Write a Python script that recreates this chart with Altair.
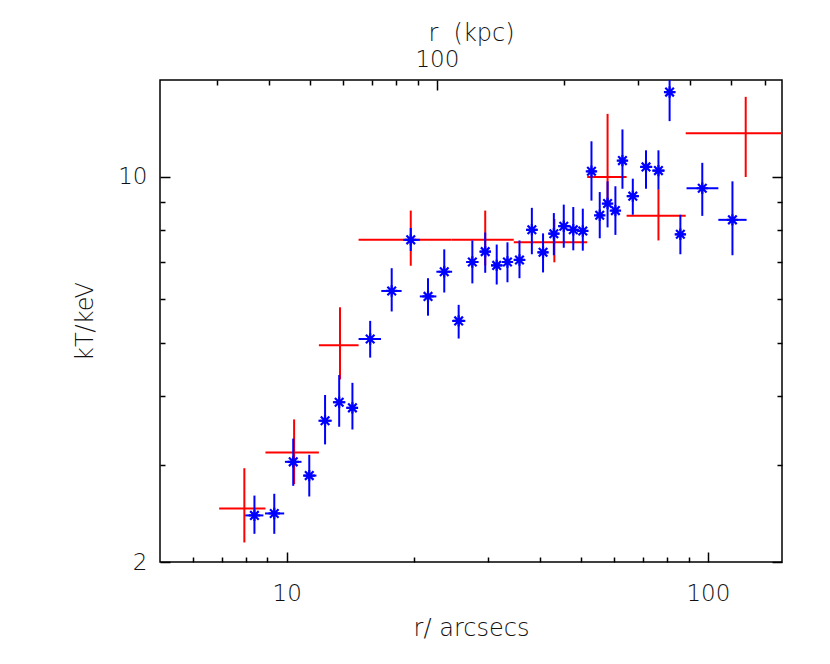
import altair as alt
import pandas as pd

# ---- blue points (r in arcsec, kT in keV) ----
bx = [8.38, 9.34, 10.36, 11.31, 12.33, 13.32, 14.32, 15.78, 17.75, 19.70, 21.65, 23.66,
      25.60, 27.59, 29.6, 31.52, 33.43, 35.70, 38.20, 40.61, 43.08, 45.48, 47.91, 50.47,
      52.92, 55.37, 57.79, 60.32, 62.69, 66.34, 71.31, 76.33, 81.13, 86.05, 97.0, 114.4]
bxlo = [7.97, 8.88, 9.90, 10.94, 11.89, 12.87, 13.84, 14.81, 16.77, 18.91, 20.70, 22.66,
        24.70, 26.67, 28.73, 30.61, 32.54, 34.6, 37.02, 39.44, 41.92, 44.36, 46.73, 49.12,
        51.7, 54.26, 56.62, 58.97, 61.43, 64.13, 69.1, 73.79, 78.96, 83.75, 89.0, 105.9]
bxhi = [8.80, 9.86, 10.84, 11.76, 12.79, 13.78, 14.74, 16.74, 18.74, 20.70, 22.66, 24.70,
        26.55, 28.54, 30.54, 32.54, 34.43, 36.85, 39.44, 41.73, 44.36, 46.73, 49.12, 51.7,
        54.26, 56.62, 58.97, 61.43, 64.13, 68.62, 73.79, 78.96, 83.75, 88.41, 105.9, 123.6]
by = [2.43, 2.45, 3.04, 2.87, 3.61, 3.90, 3.81, 5.08, 6.21, 7.69, 6.07, 6.73,
      5.48, 7.01, 7.32, 6.91, 7.01, 7.07, 8.02, 7.30, 7.89, 8.14, 8.02, 7.98,
      10.24, 8.52, 8.95, 8.69, 10.71, 9.23, 10.43, 10.27, 14.26, 7.87, 9.54, 8.36]
bylo = [2.25, 2.25, 2.75, 2.63, 3.27, 3.52, 3.48, 4.70, 5.70, 7.34, 5.60, 6.17,
        5.09, 6.41, 6.70, 6.38, 6.44, 6.55, 7.24, 6.71, 7.21, 7.44, 7.36, 7.35,
        9.06, 7.74, 8.10, 7.85, 9.52, 8.54, 9.52, 9.49, 12.63, 7.24, 8.50, 7.21]
byhi = [2.64, 2.66, 3.35, 3.13, 4.02, 4.37, 4.23, 5.48, 6.83, 8.08, 6.55, 7.39,
        5.86, 7.67, 7.93, 7.54, 7.61, 7.67, 8.79, 7.90, 8.60, 8.91, 8.82, 8.76,
        11.61, 9.39, 9.82, 9.62, 12.20, 9.93, 11.18, 11.18, 15.5, 8.54, 10.61, 9.82]

# ---- red crosses ----
rx = [7.93, 10.41, 13.38, 19.70, 29.6, 43.2, 57.79, 76.33, 123.0]
rxlo = [6.91, 8.90, 11.92, 14.81, 24.6, 34.6, 51.7, 64.13, 88.6]
rxhi = [8.90, 11.92, 14.81, 24.6, 34.6, 51.7, 64.13, 88.6, 157.4]
ry = [2.50, 3.16, 4.95, 7.69, 7.69, 7.61, 10.0, 8.50, 12.01]
rylo = [2.17, 2.77, 4.29, 6.90, 6.91, 7.00, 8.97, 7.67, 10.0]
ryhi = [2.96, 3.63, 5.80, 8.69, 8.69, 8.39, 13.02, 9.50, 13.98]

# ---- axes ----
XDOM = [5, 150]
YDOM = [2, 15]
KPC_PER_ARCSEC = 4.4
x_major = [10, 100]
x_minor = [6, 7, 8, 9, 20, 30, 40, 50, 60, 70, 80, 90]
y_major = [2, 10]
y_minor = [3, 4, 5, 6, 7, 8, 9]
kpc_major = [100]
kpc_minor = [30, 40, 50, 60, 70, 80, 90, 200, 300, 400, 500, 600]

blue = pd.DataFrame(dict(x=bx, xlo=bxlo, xhi=bxhi, y=by, ylo=bylo, yhi=byhi))
red = pd.DataFrame(dict(x=rx, xlo=rxlo, xhi=rxhi, y=ry, ylo=rylo, yhi=ryhi))

xs = alt.Scale(type="log", domain=XDOM, nice=False)
ys = alt.Scale(type="log", domain=YDOM, nice=False)
ks = alt.Scale(type="log", domain=[XDOM[0] * KPC_PER_ARCSEC, XDOM[1] * KPC_PER_ARCSEC], nice=False)

FONT = "DejaVu Sans"
TXT = "#111111"


def axis(orient, values, size, labels=False, title="", lp=0, tp=0):
    return alt.Axis(orient=orient, values=values, tickSize=size, offset=-size,
                    labels=labels, title=title, domain=False, grid=False, ticks=True,
                    tickColor="black", tickWidth=1.5, format="d",
                    labelFont=FONT, labelFontSize=23, labelFontWeight=200,
                    labelColor=TXT, labelPadding=lp,
                    titleFont=FONT, titleFontSize=24, titleFontWeight=200,
                    titleColor=TXT, titlePadding=tp)


ASTER = "M0,-1L0,1M-1,0L1,0M-0.75,-0.75L0.75,0.75M-0.75,0.75L0.75,-0.75"

red_h = alt.Chart(red).mark_rule(color="#ff0000", strokeWidth=2, clip=True).encode(
    x=alt.X("xlo:Q", scale=xs, axis=axis("bottom", x_major, 10, True, "r/ arcsecs", 20, 11)),
    x2="xhi:Q",
    y=alt.Y("y:Q", scale=ys, axis=axis("left", y_major, 10, True, "kT/keV", 13, 20)),
)
red_v = alt.Chart(red).mark_rule(color="#ff0000", strokeWidth=2, clip=True).encode(
    x=alt.X("x:Q", scale=xs, axis=axis("bottom", x_minor, 5)),
    y=alt.Y("ylo:Q", scale=ys, axis=axis("left", y_minor, 5)),
    y2="yhi:Q",
)
blue_h = alt.Chart(blue).mark_rule(color="#0000ff", strokeWidth=2, clip=True).encode(
    x=alt.X("xlo:Q", scale=xs, axis=None),
    x2="xhi:Q",
    y=alt.Y("y:Q", scale=ys, axis=axis("right", y_major, 10)),
)
blue_v = alt.Chart(blue).mark_rule(color="#0000ff", strokeWidth=2, clip=True).encode(
    x=alt.X("x:Q", scale=xs, axis=None),
    y=alt.Y("ylo:Q", scale=ys, axis=axis("right", y_minor, 5)),
    y2="yhi:Q",
)
blue_pts = alt.Chart(blue).mark_point(shape=ASTER, size=130, filled=False, color="#0000ff",
                                      strokeWidth=2.2, opacity=1, clip=True).encode(
    x=alt.X("x:Q", scale=xs, axis=None),
    y=alt.Y("y:Q", scale=ys, axis=None),
)
kpc_top = alt.Chart(blue).transform_calculate(kpc=f"datum.x * {KPC_PER_ARCSEC}").mark_point(opacity=0).encode(
    x=alt.X("kpc:Q", scale=ks, axis=axis("top", kpc_major, 10, True, "r\u00a0 (kpc)", 9, 3)),
)
kpc_top_minor = alt.Chart(blue).transform_calculate(kpc=f"datum.x * {KPC_PER_ARCSEC}").mark_point(opacity=0).encode(
    x=alt.X("kpc:Q", scale=ks, axis=axis("top", kpc_minor, 5)),
)

chart = alt.layer(red_h, red_v, blue_h, blue_v, blue_pts, kpc_top, kpc_top_minor).resolve_scale(
    x="independent", y="independent"
).resolve_axis(
    x="independent", y="independent"
).properties(
    width=622, height=482,
    autosize=alt.AutoSizeParams(type="none"),
    padding={"left": 152, "top": 72, "right": 40, "bottom": 94},
).configure_view(stroke="black", strokeWidth=1.5)

chart.save("out.html", embed_options={"renderer": "svg", "actions": False})
